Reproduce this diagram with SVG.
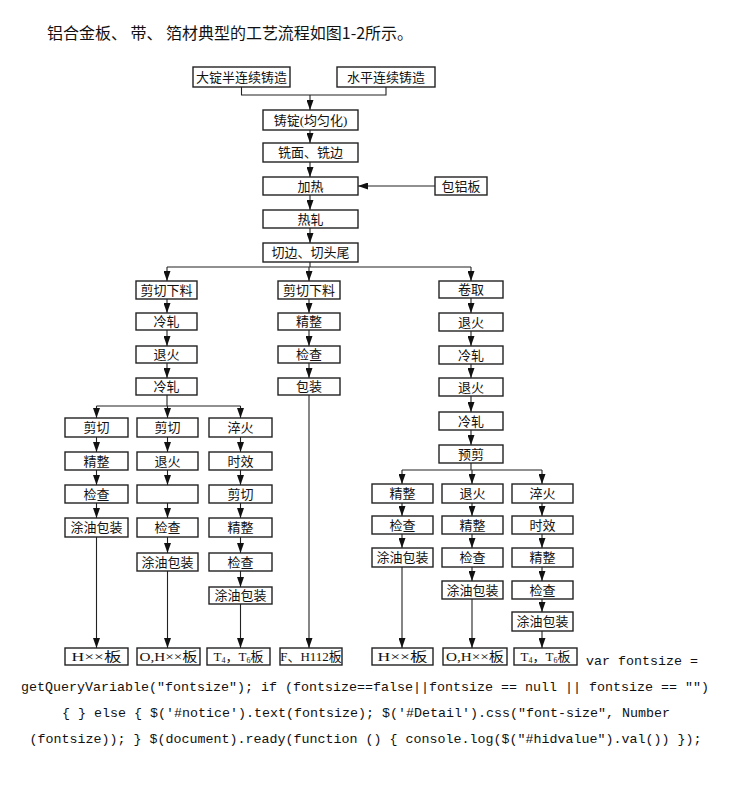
<svg xmlns="http://www.w3.org/2000/svg" width="730" height="786" viewBox="0 0 730 786">
<style>
.b{fill:#fff;stroke:#222;stroke-width:1.4}
.t{font-family:"Liberation Serif","Noto Sans CJK SC",serif;font-size:13px;fill:#111;text-anchor:middle}
.c{stroke:#222;stroke-width:1.1;fill:none}
.a{marker-end:url(#ah)}
.code{font-family:"Liberation Mono",monospace;fill:#111;font-size:13.33px}
</style>
<defs>
<marker id="ah" markerUnits="userSpaceOnUse" markerWidth="10" markerHeight="7" refX="10" refY="3.5" orient="auto">
<path d="M0,0 L10,3.5 L0,7 z" fill="#111"/>
</marker>
</defs>
<rect width="730" height="786" fill="#fff"/>
<text x="47" y="39" font-family="'Noto Sans CJK SC',sans-serif" font-size="16" fill="#111" textLength="366" lengthAdjust="spacingAndGlyphs">铝合金板、 带、 箔材典型的工艺流程如图1-2所示。</text>

<g id="connectors">
<path class="c" d="M241.5,87 V95 H386 V87"/>
<line class="c a" x1="310" y1="95" x2="310" y2="110"/>
<line class="c a" x1="310" y1="130" x2="310" y2="143"/>
<line class="c a" x1="310" y1="162" x2="310" y2="177"/>
<line class="c a" x1="435" y1="186" x2="358" y2="186"/>
<line class="c a" x1="310" y1="195" x2="310" y2="210"/>
<line class="c a" x1="310" y1="228" x2="310" y2="243"/>
<path class="c" d="M310,262 V267 M167,267 H471"/>
<line class="c a" x1="167" y1="267" x2="167" y2="281"/>
<line class="c a" x1="309" y1="267" x2="309" y2="281"/>
<line class="c a" x1="471" y1="267" x2="471" y2="281"/>
<line class="c a" x1="167" y1="299" x2="167" y2="313"/>
<line class="c a" x1="167" y1="330" x2="167" y2="346"/>
<line class="c a" x1="167" y1="363" x2="167" y2="378"/>
<path class="c" d="M167,395 V406 M96.5,406 H240.5"/>
<line class="c a" x1="96.5" y1="406" x2="96.5" y2="418"/>
<line class="c a" x1="167.5" y1="406" x2="167.5" y2="418"/>
<line class="c a" x1="240.5" y1="406" x2="240.5" y2="418"/>
<line class="c a" x1="96.5" y1="437" x2="96.5" y2="452"/>
<line class="c a" x1="96.5" y1="470" x2="96.5" y2="485"/>
<line class="c a" x1="96.5" y1="503" x2="96.5" y2="518"/>
<line class="c a" x1="96.5" y1="537" x2="96.5" y2="648"/>
<line class="c a" x1="167.5" y1="437" x2="167.5" y2="452"/>
<line class="c a" x1="167.5" y1="470" x2="167.5" y2="485"/>
<line class="c a" x1="167.5" y1="503" x2="167.5" y2="518"/>
<line class="c a" x1="167.5" y1="537" x2="167.5" y2="553"/>
<line class="c a" x1="167.5" y1="571" x2="167.5" y2="648"/>
<line class="c a" x1="240.5" y1="437" x2="240.5" y2="452"/>
<line class="c a" x1="240.5" y1="470" x2="240.5" y2="485"/>
<line class="c a" x1="240.5" y1="503" x2="240.5" y2="518"/>
<line class="c a" x1="240.5" y1="537" x2="240.5" y2="553"/>
<line class="c a" x1="240.5" y1="571" x2="240.5" y2="587"/>
<line class="c a" x1="240.5" y1="604" x2="240.5" y2="648"/>
<line class="c a" x1="309" y1="299" x2="309" y2="313"/>
<line class="c a" x1="309" y1="330" x2="309" y2="346"/>
<line class="c a" x1="309" y1="363" x2="309" y2="378"/>
<line class="c a" x1="309" y1="395" x2="309" y2="648"/>
<line class="c a" x1="471" y1="298" x2="471" y2="313"/>
<line class="c a" x1="471" y1="331" x2="471" y2="346"/>
<line class="c a" x1="471" y1="364" x2="471" y2="378"/>
<line class="c a" x1="471" y1="396" x2="471" y2="412"/>
<line class="c a" x1="471" y1="430" x2="471" y2="445"/>
<path class="c" d="M471,463 V470 M402,470 H542"/>
<line class="c a" x1="402" y1="470" x2="402" y2="484"/>
<line class="c a" x1="472" y1="470" x2="472" y2="484"/>
<line class="c a" x1="542" y1="470" x2="542" y2="484"/>
<line class="c a" x1="402" y1="503" x2="402" y2="516"/>
<line class="c a" x1="402" y1="534" x2="402" y2="548"/>
<line class="c a" x1="402" y1="567" x2="402" y2="648"/>
<line class="c a" x1="472" y1="503" x2="472" y2="516"/>
<line class="c a" x1="472" y1="534" x2="472" y2="548"/>
<line class="c a" x1="472" y1="567" x2="472" y2="581"/>
<line class="c a" x1="472" y1="599" x2="472" y2="648"/>
<line class="c a" x1="542" y1="503" x2="542" y2="516"/>
<line class="c a" x1="542" y1="534" x2="542" y2="548"/>
<line class="c a" x1="542" y1="567" x2="542" y2="581"/>
<line class="c a" x1="542" y1="599" x2="542" y2="612"/>
<line class="c a" x1="542" y1="631" x2="542" y2="648"/>
</g>

<g id="n1"><rect class="b" x="193" y="67" width="97" height="20"/><text class="t" x="241.5" y="82">大锭半连续铸造</text></g>
<g id="n2"><rect class="b" x="337" y="67" width="98" height="20"/><text class="t" x="386" y="82">水平连续铸造</text></g>
<g id="n3"><rect class="b" x="263" y="110" width="95" height="20"/><text class="t" x="310.5" y="125">铸锭(均匀化)</text></g>
<g id="n4"><rect class="b" x="263" y="143" width="95" height="19"/><text class="t" x="310.5" y="157">铣面、铣边</text></g>
<g id="n5"><rect class="b" x="263" y="177" width="95" height="18"/><text class="t" x="310.5" y="190.5">加热</text></g>
<g id="n6"><rect class="b" x="435" y="177" width="52" height="18"/><text class="t" x="461" y="190.5">包铝板</text></g>
<g id="n7"><rect class="b" x="263" y="210" width="95" height="18"/><text class="t" x="310.5" y="223.5">热轧</text></g>
<g id="n8"><rect class="b" x="263" y="243" width="95" height="19"/><text class="t" x="310.5" y="257">切边、切头尾</text></g>

<g id="L1"><rect class="b" x="136" y="281" width="61" height="18"/><text class="t" x="166.5" y="294.5">剪切下料</text></g>
<g id="L2"><rect class="b" x="136" y="313" width="61" height="17"/><text class="t" x="166.5" y="326">冷轧</text></g>
<g id="L3"><rect class="b" x="136" y="346" width="61" height="17"/><text class="t" x="166.5" y="359">退火</text></g>
<g id="L4"><rect class="b" x="136" y="378" width="61" height="17"/><text class="t" x="166.5" y="391">冷轧</text></g>

<g id="A1"><rect class="b" x="65" y="418" width="63" height="19"/><text class="t" x="96.5" y="432">剪切</text></g>
<g id="A2"><rect class="b" x="65" y="452" width="63" height="18"/><text class="t" x="96.5" y="465.5">精整</text></g>
<g id="A3"><rect class="b" x="65" y="485" width="63" height="18"/><text class="t" x="96.5" y="498.5">检查</text></g>
<g id="A4"><rect class="b" x="65" y="518" width="63" height="19"/><text class="t" x="96.5" y="532">涂油包装</text></g>

<g id="B1"><rect class="b" x="137" y="418" width="61" height="19"/><text class="t" x="167.5" y="432">剪切</text></g>
<g id="B2"><rect class="b" x="137" y="452" width="61" height="18"/><text class="t" x="167.5" y="465.5">退火</text></g>
<g id="B3"><rect class="b" x="137" y="485" width="61" height="18"/></g>
<g id="B4"><rect class="b" x="137" y="518" width="61" height="19"/><text class="t" x="167.5" y="532">检查</text></g>
<g id="B5"><rect class="b" x="137" y="553" width="61" height="18"/><text class="t" x="167.5" y="566.5">涂油包装</text></g>

<g id="C1"><rect class="b" x="209" y="418" width="63" height="19"/><text class="t" x="240.5" y="432">淬火</text></g>
<g id="C2"><rect class="b" x="209" y="452" width="63" height="18"/><text class="t" x="240.5" y="465.5">时效</text></g>
<g id="C3"><rect class="b" x="209" y="485" width="63" height="18"/><text class="t" x="240.5" y="498.5">剪切</text></g>
<g id="C4"><rect class="b" x="209" y="518" width="63" height="19"/><text class="t" x="240.5" y="532">精整</text></g>
<g id="C5"><rect class="b" x="209" y="553" width="63" height="18"/><text class="t" x="240.5" y="566.5">检查</text></g>
<g id="C6"><rect class="b" x="209" y="587" width="63" height="17"/><text class="t" x="240.5" y="600">涂油包装</text></g>

<g id="M1"><rect class="b" x="278" y="281" width="62" height="18"/><text class="t" x="309" y="294.5">剪切下料</text></g>
<g id="M2"><rect class="b" x="278" y="313" width="62" height="17"/><text class="t" x="309" y="326">精整</text></g>
<g id="M3"><rect class="b" x="278" y="346" width="62" height="17"/><text class="t" x="309" y="359">检查</text></g>
<g id="M4"><rect class="b" x="278" y="378" width="62" height="17"/><text class="t" x="309" y="391">包装</text></g>

<g id="R1"><rect class="b" x="439" y="281" width="64" height="17"/><text class="t" x="471" y="294">卷取</text></g>
<g id="R2"><rect class="b" x="439" y="313" width="64" height="18"/><text class="t" x="471" y="326.5">退火</text></g>
<g id="R3"><rect class="b" x="439" y="346" width="64" height="18"/><text class="t" x="471" y="359.5">冷轧</text></g>
<g id="R4"><rect class="b" x="439" y="378" width="64" height="18"/><text class="t" x="471" y="391.5">退火</text></g>
<g id="R5"><rect class="b" x="439" y="412" width="64" height="18"/><text class="t" x="471" y="425.5">冷轧</text></g>
<g id="R6"><rect class="b" x="439" y="445" width="64" height="18"/><text class="t" x="471" y="458.5">预剪</text></g>

<g id="D1"><rect class="b" x="372" y="484" width="61" height="19"/><text class="t" x="402.5" y="498">精整</text></g>
<g id="D2"><rect class="b" x="372" y="516" width="61" height="18"/><text class="t" x="402.5" y="529.5">检查</text></g>
<g id="D3"><rect class="b" x="372" y="548" width="61" height="19"/><text class="t" x="402.5" y="562">涂油包装</text></g>

<g id="E1"><rect class="b" x="442" y="484" width="61" height="19"/><text class="t" x="472.5" y="498">退火</text></g>
<g id="E2"><rect class="b" x="442" y="516" width="61" height="18"/><text class="t" x="472.5" y="529.5">精整</text></g>
<g id="E3"><rect class="b" x="442" y="548" width="61" height="19"/><text class="t" x="472.5" y="562">检查</text></g>
<g id="E4"><rect class="b" x="442" y="581" width="61" height="18"/><text class="t" x="472.5" y="594.5">涂油包装</text></g>

<g id="F1"><rect class="b" x="512" y="484" width="61" height="19"/><text class="t" x="542.5" y="498">淬火</text></g>
<g id="F2"><rect class="b" x="512" y="516" width="61" height="18"/><text class="t" x="542.5" y="529.5">时效</text></g>
<g id="F3"><rect class="b" x="512" y="548" width="61" height="19"/><text class="t" x="542.5" y="562">精整</text></g>
<g id="F4"><rect class="b" x="512" y="581" width="61" height="18"/><text class="t" x="542.5" y="594.5">检查</text></g>
<g id="F5"><rect class="b" x="512" y="612" width="61" height="19"/><text class="t" x="542.5" y="626">涂油包装</text></g>

<g id="P1"><rect class="b" x="65" y="648" width="63" height="17"/><text class="t" x="96.5" y="661" textLength="50" lengthAdjust="spacingAndGlyphs">H××板</text></g>
<g id="P2"><rect class="b" x="137" y="648" width="63" height="17"/><text class="t" x="168.5" y="661" textLength="58" lengthAdjust="spacingAndGlyphs">O,H××板</text></g>
<g id="P3"><rect class="b" x="207" y="648" width="63" height="17"/><text class="t" x="238.5" y="661">T<tspan font-size="8" dy="2">4</tspan><tspan dy="-2">，T</tspan><tspan font-size="8" dy="2">6</tspan><tspan dy="-2">板</tspan></text></g>
<g id="P4"><rect class="b" x="280" y="648" width="62" height="17"/><text class="t" x="311" y="661">F、H112板</text></g>
<g id="P5"><rect class="b" x="372" y="648" width="61" height="17"/><text class="t" x="402.5" y="661" textLength="50" lengthAdjust="spacingAndGlyphs">H××板</text></g>
<g id="P6"><rect class="b" x="443" y="648" width="64" height="17"/><text class="t" x="475" y="661" textLength="58" lengthAdjust="spacingAndGlyphs">O,H××板</text></g>
<g id="P7"><rect class="b" x="514" y="648" width="63" height="17"/><text class="t" x="545.5" y="661">T<tspan font-size="8" dy="2">4</tspan><tspan dy="-2">，T</tspan><tspan font-size="8" dy="2">6</tspan><tspan dy="-2">板</tspan></text></g>

<text class="code" x="586" y="665">var fontsize =</text>
<text class="code" x="365" y="691" text-anchor="middle">getQueryVariable("fontsize"); if (fontsize==false||fontsize == null || fontsize == "")</text>
<text class="code" x="366" y="717" text-anchor="middle">{ } else { $('#notice').text(fontsize); $('#Detail').css("font-size", Number</text>
<text class="code" x="365.5" y="743" text-anchor="middle">(fontsize)); } $(document).ready(function () { console.log($("#hidvalue").val()) });</text>
</svg>
